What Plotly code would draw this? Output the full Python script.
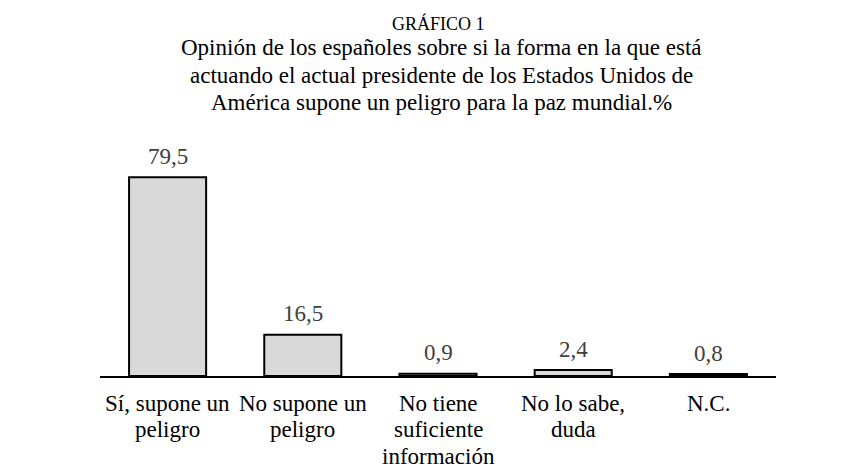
import plotly.graph_objects as go

categories = ["Sí, supone un peligro", "No supone un peligro", "No tiene suficiente información",
              "No lo sabe, duda", "N.C."]
category_lines = [["Sí, supone un", "peligro"], ["No supone un", "peligro"],
                  ["No tiene", "suficiente", "información"], ["No lo sabe,", "duda"], ["N.C."]]
values = [79.5, 16.5, 0.9, 2.4, 0.8]
labels = [f"{v:.1f}".replace(".", ",") for v in values]

title_top = "GRÁFICO 1"
title_lines = ["Opinión de los españoles sobre si la forma en la que está",
               "actuando el actual presidente de los Estados Unidos de",
               "América supone un peligro para la paz mundial.%"]

font = "Liberation Serif"
FS = 23

# page body has an 8px margin; compensate so plot area lands at x 100-776, y 140-376
L, R, T, B = 92, 94, 132, 100
W, Hh = 862, 468
PW = W - L - R
PH = Hh - T - B

fig = go.Figure(go.Bar(
    x=categories, y=values,
    marker=dict(color="#d9d9d9", line=dict(color="black", width=2)),
    cliponaxis=False,
))

fig.update_layout(
    width=W, height=Hh,
    margin=dict(l=L, r=R, t=T, b=B),
    paper_bgcolor="white", plot_bgcolor="white",
    bargap=0.43, showlegend=False,
    font=dict(family=font, size=FS, color="black"),
    xaxis=dict(showline=True, linecolor="black", linewidth=2, ticks="", showticklabels=False),
    yaxis=dict(visible=False, range=[0, 94.4]),
)

def py(ypix):
    return ((Hh - B + 8) - ypix) / PH

def px(xpix):
    return (xpix - (L + 8)) / PW

def mid(baseline, size):
    return baseline - 0.34 * size

# value labels
for c, v, lab in zip(categories, values, labels):
    fig.add_annotation(text=lab, x=c, y=v, xref="x", yref="y", yanchor="middle",
                       yshift=13 + 0.34 * FS, showarrow=False,
                       font=dict(family=font, size=FS, color="#404040"))

# category labels
for c, lines in zip(categories, category_lines):
    for i, line in enumerate(lines):
        fig.add_annotation(text=line, x=c, xref="x", yref="paper", y=py(mid(411 + 26.5 * i, FS)),
                           yanchor="middle", showarrow=False, borderpad=0,
                           font=dict(family=font, size=FS, color="black"))

fig.add_annotation(text=title_top, xref="paper", yref="paper", x=px(438), y=py(mid(29.5, 18)),
                   yanchor="middle", showarrow=False, font=dict(family=font, size=18, color="black"))
for i, line in enumerate(title_lines):
    fig.add_annotation(text=line, xref="paper", yref="paper", x=px(441), y=py(mid(55.5 + 27.5 * i, FS)),
                       yanchor="middle", showarrow=False, font=dict(family=font, size=FS, color="black"))

fig.write_html("out.html")
